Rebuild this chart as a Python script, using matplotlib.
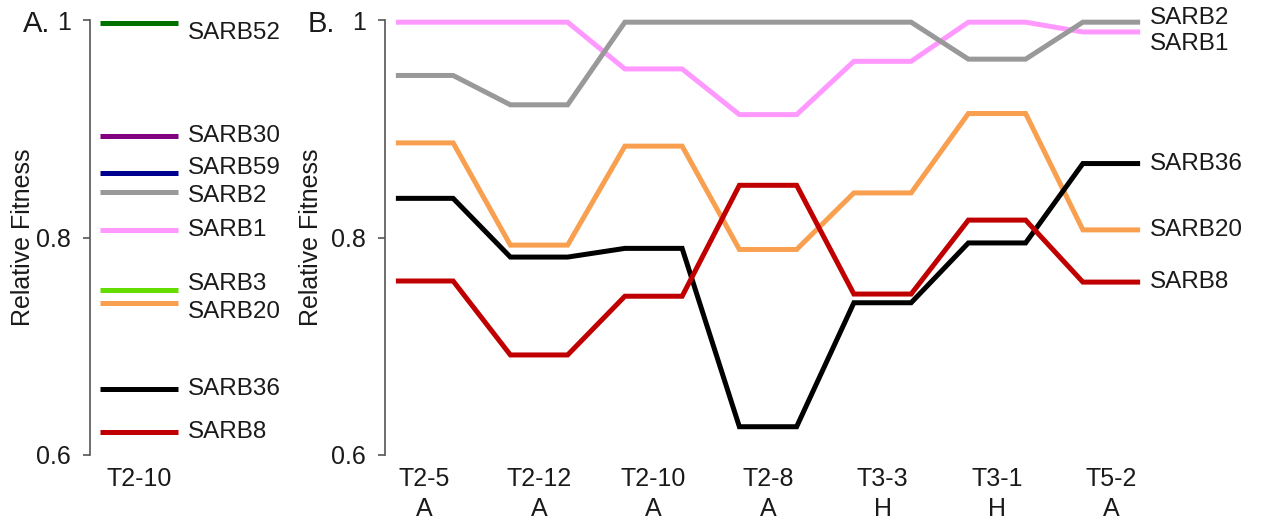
import matplotlib
matplotlib.use("Agg")
import matplotlib.pyplot as plt

plt.rcParams['font.family'] = ['Liberation Sans', 'DejaVu Sans']

# ---- Panel A data ----
a_strains = ["SARB52", "SARB30", "SARB59", "SARB2", "SARB1", "SARB3", "SARB20", "SARB36", "SARB8"]
a_values = [0.997, 0.893, 0.859, 0.842, 0.807, 0.752, 0.740, 0.661, 0.621]
a_colors = ["#007000", "#800080", "#000090", "#999999", "#FF99FF", "#66DD00", "#F9A050", "#000000", "#C00000"]
a_label_offsets = [-10, 0, 5, -4, 0, 6, -9, 0, 0]  # vertical nudges in px (positive = up)
a_category = "T2-10"

# ---- Panel B data ----
b_categories = ["T2-5\nA", "T2-12\nA", "T2-10\nA", "T2-8\nA", "T3-3\nH", "T3-1\nH", "T5-2\nA"]
sarb1 = [0.998, 0.998, 0.955, 0.913, 0.962, 0.998, 0.989]
sarb2 = [0.949, 0.922, 0.998, 0.998, 0.998, 0.964, 0.998]
sarb20 = [0.887, 0.793, 0.884, 0.789, 0.841, 0.914, 0.807]
sarb36 = [0.836, 0.782, 0.790, 0.626, 0.740, 0.795, 0.868]
sarb8 = [0.760, 0.692, 0.746, 0.848, 0.748, 0.816, 0.759]
b_series = [("SARB1", sarb1, "#FF99FF", -12),
            ("SARB2", sarb2, "#999999", 4),
            ("SARB20", sarb20, "#F9A050", 0),
            ("SARB36", sarb36, "#000000", 0),
            ("SARB8", sarb8, "#C00000", 0)]

W, H = 1267, 519
fig = plt.figure(figsize=(W / 100, H / 100), dpi=100)

def px_axes(x0, x1, ytop, ybot):
    return fig.add_axes([x0 / W, 1 - ybot / H, (x1 - x0) / W, (ybot - ytop) / H])

spine_col = "#555555"
txt_col = "#1a1a1a"
fs = 18

def style(ax):
    for s in ["top", "right", "bottom"]:
        ax.spines[s].set_visible(False)
    ax.spines["left"].set_color(spine_col)
    ax.spines["left"].set_linewidth(1.2)
    ax.set_ylim(0.6, 1.0)
    ax.set_yticks([0.6, 0.8, 1.0])
    ax.set_yticklabels(["0.6", "0.8", "1"])
    ax.tick_params(axis="y", direction="out", length=5, width=1.2, color=spine_col,
                   labelsize=fs, pad=9, labelcolor=txt_col)
    ax.tick_params(axis="x", length=0, labelsize=fs, pad=9, labelcolor=txt_col)
    ax.set_ylabel("Relative Fitness", fontsize=fs, color=txt_col)

# Panel A
axA = px_axes(90, 188, 20, 455)
style(axA)
axA.set_xlim(-0.63, 0.63)
for name, v, c, off in zip(a_strains, a_values, a_colors, a_label_offsets):
    axA.plot([-0.5, 0.5], [v, v], color=c, lw=3.6, solid_capstyle="butt", clip_on=False)
    axA.annotate(name, xy=(0.5, v), xytext=(7, off * 0.72), textcoords="offset points",
                 fontsize=17.5, va="center", ha="left", color=txt_col, annotation_clip=False)
axA.set_xticks([0])
axA.set_xticklabels([a_category])
axA.yaxis.set_label_coords(-0.56, 0.5)
fig.text(23 / W, 1 - 24 / H, "A.", fontsize=21, va="center", ha="left", color=txt_col)

# Panel B
axB = px_axes(385, 1146, 20, 455)
style(axB)
n = len(b_categories)
half = 0.25
axB.set_xlim(-0.345, (1146 - 385) / 114.5 - 0.345)
for name, vals, c, off in b_series:
    xs, ys = [], []
    for i, v in enumerate(vals):
        xs += [i - half, i + half]
        ys += [v, v]
    axB.plot(xs, ys, color=c, lw=3.6, solid_joinstyle="miter", solid_capstyle="butt", clip_on=False)
    axB.annotate(name, xy=(n - 1 + half, vals[-1]), xytext=(7, off * 0.72), textcoords="offset points",
                 fontsize=17.5, va="center", ha="left", color=txt_col, annotation_clip=False)
axB.set_xticks(range(n))
axB.set_xticklabels(b_categories, linespacing=1.3)
axB.yaxis.set_label_coords(-0.082, 0.5)
fig.text(308 / W, 1 - 24 / H, "B.", fontsize=21, va="center", ha="left", color=txt_col)

fig.savefig("out.png", dpi=100)
